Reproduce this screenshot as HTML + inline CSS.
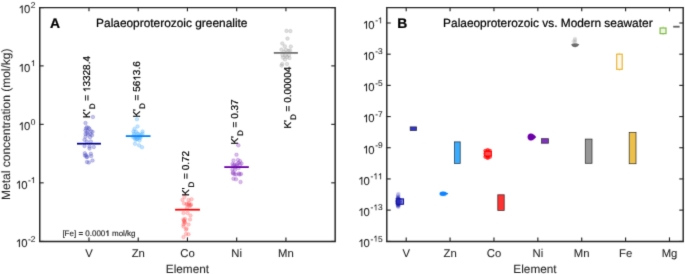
<!DOCTYPE html>
<html><head><meta charset="utf-8"><style>
html,body{margin:0;padding:0;background:#fff;}
svg{display:block;font-family:"Liberation Sans",sans-serif;text-rendering:geometricPrecision;}
text{stroke:currentColor;stroke-width:0.22px;}
.ax text,text.axt{stroke-width:0.08px;}
.fe text{stroke-width:0.1px;}
#wrap{width:685px;height:274px;overflow:hidden;}
</style></head><body>
<div id="wrap"><svg width="685" height="274" viewBox="0 0 685 274">
<defs><filter id="bl" x="0" y="0" width="685" height="274" filterUnits="userSpaceOnUse"><feConvolveMatrix order="3" kernelMatrix="0.01134 0.08382 0.01134 0.08382 0.61935 0.08382 0.01134 0.08382 0.01134" edgeMode="duplicate"/></filter></defs>
<rect width="685" height="274" fill="#fff"/>
<g filter="url(#bl)">
<circle cx="92.9" cy="117.0" r="1.8" fill="#5050c4" fill-opacity="0.34" stroke="#5050c4" stroke-opacity="0.44" stroke-width="0.6"/>
<circle cx="85.5" cy="123.0" r="1.8" fill="#5050c4" fill-opacity="0.34" stroke="#5050c4" stroke-opacity="0.44" stroke-width="0.6"/>
<circle cx="86.8" cy="127.2" r="1.8" fill="#5050c4" fill-opacity="0.34" stroke="#5050c4" stroke-opacity="0.44" stroke-width="0.6"/>
<circle cx="88.5" cy="127.8" r="1.8" fill="#5050c4" fill-opacity="0.34" stroke="#5050c4" stroke-opacity="0.44" stroke-width="0.6"/>
<circle cx="85.5" cy="130.5" r="1.8" fill="#5050c4" fill-opacity="0.34" stroke="#5050c4" stroke-opacity="0.44" stroke-width="0.6"/>
<circle cx="87.5" cy="131" r="1.8" fill="#5050c4" fill-opacity="0.34" stroke="#5050c4" stroke-opacity="0.44" stroke-width="0.6"/>
<circle cx="91" cy="131.3" r="1.8" fill="#5050c4" fill-opacity="0.34" stroke="#5050c4" stroke-opacity="0.44" stroke-width="0.6"/>
<circle cx="92.5" cy="131.8" r="1.8" fill="#5050c4" fill-opacity="0.34" stroke="#5050c4" stroke-opacity="0.44" stroke-width="0.6"/>
<circle cx="85.5" cy="134" r="1.8" fill="#5050c4" fill-opacity="0.34" stroke="#5050c4" stroke-opacity="0.44" stroke-width="0.6"/>
<circle cx="88" cy="134.5" r="1.8" fill="#5050c4" fill-opacity="0.34" stroke="#5050c4" stroke-opacity="0.44" stroke-width="0.6"/>
<circle cx="90.5" cy="134.3" r="1.8" fill="#5050c4" fill-opacity="0.34" stroke="#5050c4" stroke-opacity="0.44" stroke-width="0.6"/>
<circle cx="92" cy="135.2" r="1.8" fill="#5050c4" fill-opacity="0.34" stroke="#5050c4" stroke-opacity="0.44" stroke-width="0.6"/>
<circle cx="85.5" cy="136.8" r="1.8" fill="#5050c4" fill-opacity="0.34" stroke="#5050c4" stroke-opacity="0.44" stroke-width="0.6"/>
<circle cx="90" cy="137.2" r="1.8" fill="#5050c4" fill-opacity="0.34" stroke="#5050c4" stroke-opacity="0.44" stroke-width="0.6"/>
<circle cx="84.5" cy="139.8" r="1.8" fill="#5050c4" fill-opacity="0.34" stroke="#5050c4" stroke-opacity="0.44" stroke-width="0.6"/>
<circle cx="86.8" cy="141.5" r="1.8" fill="#5050c4" fill-opacity="0.34" stroke="#5050c4" stroke-opacity="0.44" stroke-width="0.6"/>
<circle cx="90.8" cy="141.5" r="1.8" fill="#5050c4" fill-opacity="0.34" stroke="#5050c4" stroke-opacity="0.44" stroke-width="0.6"/>
<circle cx="84.5" cy="146" r="1.8" fill="#5050c4" fill-opacity="0.34" stroke="#5050c4" stroke-opacity="0.44" stroke-width="0.6"/>
<circle cx="89.5" cy="146.5" r="1.8" fill="#5050c4" fill-opacity="0.34" stroke="#5050c4" stroke-opacity="0.44" stroke-width="0.6"/>
<circle cx="89.5" cy="148.5" r="1.8" fill="#5050c4" fill-opacity="0.34" stroke="#5050c4" stroke-opacity="0.44" stroke-width="0.6"/>
<circle cx="93.8" cy="147" r="1.8" fill="#5050c4" fill-opacity="0.34" stroke="#5050c4" stroke-opacity="0.44" stroke-width="0.6"/>
<circle cx="84.8" cy="153.3" r="1.8" fill="#5050c4" fill-opacity="0.34" stroke="#5050c4" stroke-opacity="0.44" stroke-width="0.6"/>
<circle cx="86" cy="155.3" r="1.8" fill="#5050c4" fill-opacity="0.34" stroke="#5050c4" stroke-opacity="0.44" stroke-width="0.6"/>
<circle cx="87.3" cy="156.8" r="1.8" fill="#5050c4" fill-opacity="0.34" stroke="#5050c4" stroke-opacity="0.44" stroke-width="0.6"/>
<circle cx="90.8" cy="153.8" r="1.8" fill="#5050c4" fill-opacity="0.34" stroke="#5050c4" stroke-opacity="0.44" stroke-width="0.6"/>
<circle cx="91.2" cy="156" r="1.8" fill="#5050c4" fill-opacity="0.34" stroke="#5050c4" stroke-opacity="0.44" stroke-width="0.6"/>
<circle cx="92.5" cy="160.5" r="1.8" fill="#5050c4" fill-opacity="0.34" stroke="#5050c4" stroke-opacity="0.44" stroke-width="0.6"/>
<circle cx="87" cy="162" r="1.8" fill="#5050c4" fill-opacity="0.34" stroke="#5050c4" stroke-opacity="0.44" stroke-width="0.6"/>
<circle cx="88.8" cy="162.5" r="1.8" fill="#5050c4" fill-opacity="0.34" stroke="#5050c4" stroke-opacity="0.44" stroke-width="0.6"/>
<circle cx="86" cy="128.5" r="1.8" fill="#5050c4" fill-opacity="0.34" stroke="#5050c4" stroke-opacity="0.44" stroke-width="0.6"/>
<circle cx="89.5" cy="129" r="1.8" fill="#5050c4" fill-opacity="0.34" stroke="#5050c4" stroke-opacity="0.44" stroke-width="0.6"/>
<circle cx="87" cy="133" r="1.8" fill="#5050c4" fill-opacity="0.34" stroke="#5050c4" stroke-opacity="0.44" stroke-width="0.6"/>
<circle cx="85" cy="155.5" r="1.8" fill="#5050c4" fill-opacity="0.34" stroke="#5050c4" stroke-opacity="0.44" stroke-width="0.6"/>
<circle cx="86.5" cy="157" r="1.8" fill="#5050c4" fill-opacity="0.34" stroke="#5050c4" stroke-opacity="0.44" stroke-width="0.6"/>
<circle cx="136.9" cy="119.3" r="1.8" fill="#4aacff" fill-opacity="0.33" stroke="#4aacff" stroke-opacity="0.43" stroke-width="0.6"/>
<circle cx="137.5" cy="126.5" r="1.8" fill="#4aacff" fill-opacity="0.33" stroke="#4aacff" stroke-opacity="0.43" stroke-width="0.6"/>
<circle cx="134.5" cy="129" r="1.8" fill="#4aacff" fill-opacity="0.33" stroke="#4aacff" stroke-opacity="0.43" stroke-width="0.6"/>
<circle cx="133.5" cy="131.5" r="1.8" fill="#4aacff" fill-opacity="0.33" stroke="#4aacff" stroke-opacity="0.43" stroke-width="0.6"/>
<circle cx="136" cy="131.8" r="1.8" fill="#4aacff" fill-opacity="0.33" stroke="#4aacff" stroke-opacity="0.43" stroke-width="0.6"/>
<circle cx="134" cy="133.8" r="1.8" fill="#4aacff" fill-opacity="0.33" stroke="#4aacff" stroke-opacity="0.43" stroke-width="0.6"/>
<circle cx="137.5" cy="133.6" r="1.8" fill="#4aacff" fill-opacity="0.33" stroke="#4aacff" stroke-opacity="0.43" stroke-width="0.6"/>
<circle cx="142.5" cy="131.5" r="1.8" fill="#4aacff" fill-opacity="0.33" stroke="#4aacff" stroke-opacity="0.43" stroke-width="0.6"/>
<circle cx="142.5" cy="133.8" r="1.8" fill="#4aacff" fill-opacity="0.33" stroke="#4aacff" stroke-opacity="0.43" stroke-width="0.6"/>
<circle cx="139" cy="134.3" r="1.8" fill="#4aacff" fill-opacity="0.33" stroke="#4aacff" stroke-opacity="0.43" stroke-width="0.6"/>
<circle cx="134.5" cy="138" r="1.8" fill="#4aacff" fill-opacity="0.33" stroke="#4aacff" stroke-opacity="0.43" stroke-width="0.6"/>
<circle cx="137" cy="138.5" r="1.8" fill="#4aacff" fill-opacity="0.33" stroke="#4aacff" stroke-opacity="0.43" stroke-width="0.6"/>
<circle cx="139.2" cy="138" r="1.8" fill="#4aacff" fill-opacity="0.33" stroke="#4aacff" stroke-opacity="0.43" stroke-width="0.6"/>
<circle cx="139.5" cy="140.5" r="1.8" fill="#4aacff" fill-opacity="0.33" stroke="#4aacff" stroke-opacity="0.43" stroke-width="0.6"/>
<circle cx="135" cy="143.8" r="1.8" fill="#4aacff" fill-opacity="0.33" stroke="#4aacff" stroke-opacity="0.43" stroke-width="0.6"/>
<circle cx="139" cy="145.3" r="1.8" fill="#4aacff" fill-opacity="0.33" stroke="#4aacff" stroke-opacity="0.43" stroke-width="0.6"/>
<circle cx="142" cy="147.2" r="1.8" fill="#4aacff" fill-opacity="0.33" stroke="#4aacff" stroke-opacity="0.43" stroke-width="0.6"/>
<circle cx="136" cy="136.5" r="1.8" fill="#4aacff" fill-opacity="0.33" stroke="#4aacff" stroke-opacity="0.43" stroke-width="0.6"/>
<circle cx="140.5" cy="136.5" r="1.8" fill="#4aacff" fill-opacity="0.33" stroke="#4aacff" stroke-opacity="0.43" stroke-width="0.6"/>
<circle cx="134" cy="135.5" r="1.8" fill="#4aacff" fill-opacity="0.33" stroke="#4aacff" stroke-opacity="0.43" stroke-width="0.6"/>
<circle cx="136" cy="137" r="1.8" fill="#4aacff" fill-opacity="0.33" stroke="#4aacff" stroke-opacity="0.43" stroke-width="0.6"/>
<circle cx="138.5" cy="136.5" r="1.8" fill="#4aacff" fill-opacity="0.33" stroke="#4aacff" stroke-opacity="0.43" stroke-width="0.6"/>
<circle cx="140.5" cy="137.8" r="1.8" fill="#4aacff" fill-opacity="0.33" stroke="#4aacff" stroke-opacity="0.43" stroke-width="0.6"/>
<circle cx="137" cy="139.2" r="1.8" fill="#4aacff" fill-opacity="0.33" stroke="#4aacff" stroke-opacity="0.43" stroke-width="0.6"/>
<circle cx="135.5" cy="139.8" r="1.8" fill="#4aacff" fill-opacity="0.33" stroke="#4aacff" stroke-opacity="0.43" stroke-width="0.6"/>
<circle cx="141" cy="135" r="1.8" fill="#4aacff" fill-opacity="0.33" stroke="#4aacff" stroke-opacity="0.43" stroke-width="0.6"/>
<circle cx="133" cy="137" r="1.8" fill="#4aacff" fill-opacity="0.33" stroke="#4aacff" stroke-opacity="0.43" stroke-width="0.6"/>
<circle cx="184.5" cy="197" r="1.8" fill="#ff5050" fill-opacity="0.3" stroke="#ff5050" stroke-opacity="0.39" stroke-width="0.6"/>
<circle cx="182.5" cy="200" r="1.8" fill="#ff5050" fill-opacity="0.3" stroke="#ff5050" stroke-opacity="0.39" stroke-width="0.6"/>
<circle cx="188.5" cy="200" r="1.8" fill="#ff5050" fill-opacity="0.3" stroke="#ff5050" stroke-opacity="0.39" stroke-width="0.6"/>
<circle cx="191.5" cy="199.3" r="1.8" fill="#ff5050" fill-opacity="0.3" stroke="#ff5050" stroke-opacity="0.39" stroke-width="0.6"/>
<circle cx="184" cy="203.5" r="1.8" fill="#ff5050" fill-opacity="0.3" stroke="#ff5050" stroke-opacity="0.39" stroke-width="0.6"/>
<circle cx="186.5" cy="204" r="1.8" fill="#ff5050" fill-opacity="0.3" stroke="#ff5050" stroke-opacity="0.39" stroke-width="0.6"/>
<circle cx="189" cy="204.5" r="1.8" fill="#ff5050" fill-opacity="0.3" stroke="#ff5050" stroke-opacity="0.39" stroke-width="0.6"/>
<circle cx="191" cy="204.6" r="1.8" fill="#ff5050" fill-opacity="0.3" stroke="#ff5050" stroke-opacity="0.39" stroke-width="0.6"/>
<circle cx="187" cy="207.8" r="1.8" fill="#ff5050" fill-opacity="0.3" stroke="#ff5050" stroke-opacity="0.39" stroke-width="0.6"/>
<circle cx="183.5" cy="213" r="1.8" fill="#ff5050" fill-opacity="0.3" stroke="#ff5050" stroke-opacity="0.39" stroke-width="0.6"/>
<circle cx="187.5" cy="213" r="1.8" fill="#ff5050" fill-opacity="0.3" stroke="#ff5050" stroke-opacity="0.39" stroke-width="0.6"/>
<circle cx="190.5" cy="215.5" r="1.8" fill="#ff5050" fill-opacity="0.3" stroke="#ff5050" stroke-opacity="0.39" stroke-width="0.6"/>
<circle cx="190" cy="219.5" r="1.8" fill="#ff5050" fill-opacity="0.3" stroke="#ff5050" stroke-opacity="0.39" stroke-width="0.6"/>
<circle cx="183.5" cy="219.5" r="1.8" fill="#ff5050" fill-opacity="0.3" stroke="#ff5050" stroke-opacity="0.39" stroke-width="0.6"/>
<circle cx="184.2" cy="220.8" r="1.8" fill="#ff5050" fill-opacity="0.3" stroke="#ff5050" stroke-opacity="0.39" stroke-width="0.6"/>
<circle cx="185" cy="222.2" r="1.8" fill="#ff5050" fill-opacity="0.3" stroke="#ff5050" stroke-opacity="0.39" stroke-width="0.6"/>
<circle cx="183.5" cy="224.5" r="1.8" fill="#ff5050" fill-opacity="0.3" stroke="#ff5050" stroke-opacity="0.39" stroke-width="0.6"/>
<circle cx="188.5" cy="224.5" r="1.8" fill="#ff5050" fill-opacity="0.3" stroke="#ff5050" stroke-opacity="0.39" stroke-width="0.6"/>
<circle cx="183.5" cy="226.5" r="1.8" fill="#ff5050" fill-opacity="0.3" stroke="#ff5050" stroke-opacity="0.39" stroke-width="0.6"/>
<circle cx="186.5" cy="228.5" r="1.8" fill="#ff5050" fill-opacity="0.3" stroke="#ff5050" stroke-opacity="0.39" stroke-width="0.6"/>
<circle cx="186" cy="229.7" r="1.8" fill="#ff5050" fill-opacity="0.3" stroke="#ff5050" stroke-opacity="0.39" stroke-width="0.6"/>
<circle cx="186" cy="234" r="1.8" fill="#ff5050" fill-opacity="0.3" stroke="#ff5050" stroke-opacity="0.39" stroke-width="0.6"/>
<circle cx="188.5" cy="234.2" r="1.8" fill="#ff5050" fill-opacity="0.3" stroke="#ff5050" stroke-opacity="0.39" stroke-width="0.6"/>
<circle cx="183.5" cy="237" r="1.8" fill="#ff5050" fill-opacity="0.3" stroke="#ff5050" stroke-opacity="0.39" stroke-width="0.6"/>
<circle cx="189.5" cy="205.8" r="1.8" fill="#ff5050" fill-opacity="0.3" stroke="#ff5050" stroke-opacity="0.39" stroke-width="0.6"/>
<circle cx="187.5" cy="204.5" r="1.8" fill="#ff5050" fill-opacity="0.3" stroke="#ff5050" stroke-opacity="0.39" stroke-width="0.6"/>
<circle cx="189" cy="203" r="1.8" fill="#ff5050" fill-opacity="0.3" stroke="#ff5050" stroke-opacity="0.39" stroke-width="0.6"/>
<circle cx="190.5" cy="205.5" r="1.8" fill="#ff5050" fill-opacity="0.3" stroke="#ff5050" stroke-opacity="0.39" stroke-width="0.6"/>
<circle cx="184" cy="221" r="1.8" fill="#ff5050" fill-opacity="0.3" stroke="#ff5050" stroke-opacity="0.39" stroke-width="0.6"/>
<circle cx="185" cy="219" r="1.8" fill="#ff5050" fill-opacity="0.3" stroke="#ff5050" stroke-opacity="0.39" stroke-width="0.6"/>
<circle cx="184.5" cy="223" r="1.8" fill="#ff5050" fill-opacity="0.3" stroke="#ff5050" stroke-opacity="0.39" stroke-width="0.6"/>
<circle cx="238.3" cy="145.3" r="1.8" fill="#8a36c0" fill-opacity="0.32" stroke="#8a36c0" stroke-opacity="0.42" stroke-width="0.6"/>
<circle cx="236.5" cy="154.8" r="1.8" fill="#8a36c0" fill-opacity="0.32" stroke="#8a36c0" stroke-opacity="0.42" stroke-width="0.6"/>
<circle cx="233.5" cy="160.5" r="1.8" fill="#8a36c0" fill-opacity="0.32" stroke="#8a36c0" stroke-opacity="0.42" stroke-width="0.6"/>
<circle cx="238" cy="160" r="1.8" fill="#8a36c0" fill-opacity="0.32" stroke="#8a36c0" stroke-opacity="0.42" stroke-width="0.6"/>
<circle cx="240" cy="161.2" r="1.8" fill="#8a36c0" fill-opacity="0.32" stroke="#8a36c0" stroke-opacity="0.42" stroke-width="0.6"/>
<circle cx="232.5" cy="164" r="1.8" fill="#8a36c0" fill-opacity="0.32" stroke="#8a36c0" stroke-opacity="0.42" stroke-width="0.6"/>
<circle cx="234.5" cy="164.5" r="1.8" fill="#8a36c0" fill-opacity="0.32" stroke="#8a36c0" stroke-opacity="0.42" stroke-width="0.6"/>
<circle cx="237" cy="164.2" r="1.8" fill="#8a36c0" fill-opacity="0.32" stroke="#8a36c0" stroke-opacity="0.42" stroke-width="0.6"/>
<circle cx="240" cy="164.8" r="1.8" fill="#8a36c0" fill-opacity="0.32" stroke="#8a36c0" stroke-opacity="0.42" stroke-width="0.6"/>
<circle cx="241.5" cy="163.5" r="1.8" fill="#8a36c0" fill-opacity="0.32" stroke="#8a36c0" stroke-opacity="0.42" stroke-width="0.6"/>
<circle cx="232.5" cy="169.5" r="1.8" fill="#8a36c0" fill-opacity="0.32" stroke="#8a36c0" stroke-opacity="0.42" stroke-width="0.6"/>
<circle cx="235" cy="169.8" r="1.8" fill="#8a36c0" fill-opacity="0.32" stroke="#8a36c0" stroke-opacity="0.42" stroke-width="0.6"/>
<circle cx="233" cy="173.5" r="1.8" fill="#8a36c0" fill-opacity="0.32" stroke="#8a36c0" stroke-opacity="0.42" stroke-width="0.6"/>
<circle cx="236" cy="174.5" r="1.8" fill="#8a36c0" fill-opacity="0.32" stroke="#8a36c0" stroke-opacity="0.42" stroke-width="0.6"/>
<circle cx="239" cy="173.5" r="1.8" fill="#8a36c0" fill-opacity="0.32" stroke="#8a36c0" stroke-opacity="0.42" stroke-width="0.6"/>
<circle cx="241" cy="174" r="1.8" fill="#8a36c0" fill-opacity="0.32" stroke="#8a36c0" stroke-opacity="0.42" stroke-width="0.6"/>
<circle cx="233.5" cy="178.7" r="1.8" fill="#8a36c0" fill-opacity="0.32" stroke="#8a36c0" stroke-opacity="0.42" stroke-width="0.6"/>
<circle cx="236" cy="179.3" r="1.8" fill="#8a36c0" fill-opacity="0.32" stroke="#8a36c0" stroke-opacity="0.42" stroke-width="0.6"/>
<circle cx="240.5" cy="182" r="1.8" fill="#8a36c0" fill-opacity="0.32" stroke="#8a36c0" stroke-opacity="0.42" stroke-width="0.6"/>
<circle cx="235.5" cy="167" r="1.8" fill="#8a36c0" fill-opacity="0.32" stroke="#8a36c0" stroke-opacity="0.42" stroke-width="0.6"/>
<circle cx="238.5" cy="168" r="1.8" fill="#8a36c0" fill-opacity="0.32" stroke="#8a36c0" stroke-opacity="0.42" stroke-width="0.6"/>
<circle cx="233" cy="172.5" r="1.8" fill="#8a36c0" fill-opacity="0.32" stroke="#8a36c0" stroke-opacity="0.42" stroke-width="0.6"/>
<circle cx="234.5" cy="174" r="1.8" fill="#8a36c0" fill-opacity="0.32" stroke="#8a36c0" stroke-opacity="0.42" stroke-width="0.6"/>
<circle cx="239.5" cy="174.5" r="1.8" fill="#8a36c0" fill-opacity="0.32" stroke="#8a36c0" stroke-opacity="0.42" stroke-width="0.6"/>
<circle cx="236.5" cy="166" r="1.8" fill="#8a36c0" fill-opacity="0.32" stroke="#8a36c0" stroke-opacity="0.42" stroke-width="0.6"/>
<circle cx="233.5" cy="165.5" r="1.8" fill="#8a36c0" fill-opacity="0.32" stroke="#8a36c0" stroke-opacity="0.42" stroke-width="0.6"/>
<circle cx="238.5" cy="163" r="1.8" fill="#8a36c0" fill-opacity="0.32" stroke="#8a36c0" stroke-opacity="0.42" stroke-width="0.6"/>
<circle cx="286.5" cy="30.9" r="1.8" fill="#8c8c8c" fill-opacity="0.28" stroke="#8c8c8c" stroke-opacity="0.36" stroke-width="0.6"/>
<circle cx="290.4" cy="31.1" r="1.8" fill="#8c8c8c" fill-opacity="0.28" stroke="#8c8c8c" stroke-opacity="0.36" stroke-width="0.6"/>
<circle cx="287.5" cy="38.6" r="1.8" fill="#8c8c8c" fill-opacity="0.28" stroke="#8c8c8c" stroke-opacity="0.36" stroke-width="0.6"/>
<circle cx="282.3" cy="43.5" r="1.8" fill="#8c8c8c" fill-opacity="0.28" stroke="#8c8c8c" stroke-opacity="0.36" stroke-width="0.6"/>
<circle cx="284.8" cy="46.3" r="1.8" fill="#8c8c8c" fill-opacity="0.28" stroke="#8c8c8c" stroke-opacity="0.36" stroke-width="0.6"/>
<circle cx="290.8" cy="46.6" r="1.8" fill="#8c8c8c" fill-opacity="0.28" stroke="#8c8c8c" stroke-opacity="0.36" stroke-width="0.6"/>
<circle cx="281.5" cy="49.6" r="1.8" fill="#8c8c8c" fill-opacity="0.28" stroke="#8c8c8c" stroke-opacity="0.36" stroke-width="0.6"/>
<circle cx="286" cy="49.8" r="1.8" fill="#8c8c8c" fill-opacity="0.28" stroke="#8c8c8c" stroke-opacity="0.36" stroke-width="0.6"/>
<circle cx="288.5" cy="51" r="1.8" fill="#8c8c8c" fill-opacity="0.28" stroke="#8c8c8c" stroke-opacity="0.36" stroke-width="0.6"/>
<circle cx="290" cy="50.5" r="1.8" fill="#8c8c8c" fill-opacity="0.28" stroke="#8c8c8c" stroke-opacity="0.36" stroke-width="0.6"/>
<circle cx="284" cy="52" r="1.8" fill="#8c8c8c" fill-opacity="0.28" stroke="#8c8c8c" stroke-opacity="0.36" stroke-width="0.6"/>
<circle cx="282.5" cy="55" r="1.8" fill="#8c8c8c" fill-opacity="0.28" stroke="#8c8c8c" stroke-opacity="0.36" stroke-width="0.6"/>
<circle cx="285.5" cy="55.5" r="1.8" fill="#8c8c8c" fill-opacity="0.28" stroke="#8c8c8c" stroke-opacity="0.36" stroke-width="0.6"/>
<circle cx="289" cy="55" r="1.8" fill="#8c8c8c" fill-opacity="0.28" stroke="#8c8c8c" stroke-opacity="0.36" stroke-width="0.6"/>
<circle cx="283" cy="57.5" r="1.8" fill="#8c8c8c" fill-opacity="0.28" stroke="#8c8c8c" stroke-opacity="0.36" stroke-width="0.6"/>
<circle cx="287" cy="57" r="1.8" fill="#8c8c8c" fill-opacity="0.28" stroke="#8c8c8c" stroke-opacity="0.36" stroke-width="0.6"/>
<circle cx="289.5" cy="58" r="1.8" fill="#8c8c8c" fill-opacity="0.28" stroke="#8c8c8c" stroke-opacity="0.36" stroke-width="0.6"/>
<circle cx="285" cy="59.5" r="1.8" fill="#8c8c8c" fill-opacity="0.28" stroke="#8c8c8c" stroke-opacity="0.36" stroke-width="0.6"/>
<circle cx="282.2" cy="64" r="1.8" fill="#8c8c8c" fill-opacity="0.28" stroke="#8c8c8c" stroke-opacity="0.36" stroke-width="0.6"/>
<circle cx="287" cy="64" r="1.8" fill="#8c8c8c" fill-opacity="0.28" stroke="#8c8c8c" stroke-opacity="0.36" stroke-width="0.6"/>
<circle cx="281.6" cy="65.6" r="1.8" fill="#8c8c8c" fill-opacity="0.28" stroke="#8c8c8c" stroke-opacity="0.36" stroke-width="0.6"/>
<line x1="77.0" y1="143.7" x2="100.9" y2="143.7" stroke="#00008c" stroke-width="1.8"/>
<line x1="125.8" y1="136.1" x2="150.5" y2="136.1" stroke="#0082ff" stroke-width="1.8"/>
<line x1="175.1" y1="209.7" x2="199.9" y2="209.7" stroke="#ff0000" stroke-width="1.8"/>
<line x1="224.3" y1="167.1" x2="248.8" y2="167.1" stroke="#6a00a8" stroke-width="1.8"/>
<line x1="273.8" y1="52.9" x2="297.9" y2="52.9" stroke="#737373" stroke-width="1.8"/>
<path d="M39.75 7.6000000000000005 H335.15 V241.45000000000002 H39.75 Z" fill="none" stroke="#262626" stroke-width="1.45" stroke-linejoin="miter"/>
<line x1="39.75" y1="7.60" x2="43.65" y2="7.60" stroke="#262626" stroke-width="1.15"/>
<line x1="335.15" y1="7.60" x2="331.25" y2="7.60" stroke="#262626" stroke-width="1.15"/>
<g fill="#262626" color="#262626" class="ax"><path transform="translate(18.51,13.20) scale(0.00552,-0.00552)" d="M583 0 L583 1125 L222 905 L222 1080 L600 1409 L763 1409 L763 0 Z" stroke="currentColor" stroke-width="14.5"/><text x="23.94" y="13.20" font-size="11.3" xml:space="preserve">0</text><text x="30.83" y="7.60" font-size="8.4" xml:space="preserve">2</text></g>
<line x1="39.75" y1="65.88" x2="43.65" y2="65.88" stroke="#262626" stroke-width="1.15"/>
<line x1="335.15" y1="65.88" x2="331.25" y2="65.88" stroke="#262626" stroke-width="1.15"/>
<g fill="#262626" color="#262626" class="ax"><path transform="translate(18.51,71.67) scale(0.00552,-0.00552)" d="M583 0 L583 1125 L222 905 L222 1080 L600 1409 L763 1409 L763 0 Z" stroke="currentColor" stroke-width="14.5"/><text x="23.94" y="71.67" font-size="11.3" xml:space="preserve">0</text><path transform="translate(30.83,66.08) scale(0.00410,-0.00410)" d="M583 0 L583 1125 L222 905 L222 1080 L600 1409 L763 1409 L763 0 Z" stroke="currentColor" stroke-width="19.5"/></g>
<line x1="39.75" y1="124.35" x2="43.65" y2="124.35" stroke="#262626" stroke-width="1.15"/>
<line x1="335.15" y1="124.35" x2="331.25" y2="124.35" stroke="#262626" stroke-width="1.15"/>
<g fill="#262626" color="#262626" class="ax"><path transform="translate(18.51,130.15) scale(0.00552,-0.00552)" d="M583 0 L583 1125 L222 905 L222 1080 L600 1409 L763 1409 L763 0 Z" stroke="currentColor" stroke-width="14.5"/><text x="23.94" y="130.15" font-size="11.3" xml:space="preserve">0</text><text x="30.83" y="124.55" font-size="8.4" xml:space="preserve">0</text></g>
<line x1="39.75" y1="182.83" x2="43.65" y2="182.83" stroke="#262626" stroke-width="1.15"/>
<line x1="335.15" y1="182.83" x2="331.25" y2="182.83" stroke="#262626" stroke-width="1.15"/>
<g fill="#262626" color="#262626" class="ax"><path transform="translate(15.71,188.63) scale(0.00552,-0.00552)" d="M583 0 L583 1125 L222 905 L222 1080 L600 1409 L763 1409 L763 0 Z" stroke="currentColor" stroke-width="14.5"/><text x="21.15" y="188.63" font-size="11.3" xml:space="preserve">0</text><text x="28.03" y="183.03" font-size="8.4" xml:space="preserve">-</text><path transform="translate(30.83,183.03) scale(0.00410,-0.00410)" d="M583 0 L583 1125 L222 905 L222 1080 L600 1409 L763 1409 L763 0 Z" stroke="currentColor" stroke-width="19.5"/></g>
<line x1="39.75" y1="241.45" x2="43.65" y2="241.45" stroke="#262626" stroke-width="1.15"/>
<line x1="335.15" y1="241.45" x2="331.25" y2="241.45" stroke="#262626" stroke-width="1.15"/>
<g fill="#262626" color="#262626" class="ax"><path transform="translate(15.71,247.10) scale(0.00552,-0.00552)" d="M583 0 L583 1125 L222 905 L222 1080 L600 1409 L763 1409 L763 0 Z" stroke="currentColor" stroke-width="14.5"/><text x="21.15" y="247.10" font-size="11.3" xml:space="preserve">0</text><text x="28.03" y="241.50" font-size="8.4" xml:space="preserve">-2</text></g>
<line x1="88.98" y1="241.3" x2="88.98" y2="237.4" stroke="#262626" stroke-width="1.15"/>
<line x1="88.98" y1="7.4" x2="88.98" y2="11.3" stroke="#262626" stroke-width="1.15"/>
<text class="axt" x="88.98" y="257" text-anchor="middle" font-size="11.3" fill="#262626" color="#262626">V</text>
<line x1="138.22" y1="241.3" x2="138.22" y2="237.4" stroke="#262626" stroke-width="1.15"/>
<line x1="138.22" y1="7.4" x2="138.22" y2="11.3" stroke="#262626" stroke-width="1.15"/>
<text class="axt" x="138.22" y="257" text-anchor="middle" font-size="11.3" fill="#262626" color="#262626">Zn</text>
<line x1="187.45" y1="241.3" x2="187.45" y2="237.4" stroke="#262626" stroke-width="1.15"/>
<line x1="187.45" y1="7.4" x2="187.45" y2="11.3" stroke="#262626" stroke-width="1.15"/>
<text class="axt" x="187.45" y="257" text-anchor="middle" font-size="11.3" fill="#262626" color="#262626">Co</text>
<line x1="236.68" y1="241.3" x2="236.68" y2="237.4" stroke="#262626" stroke-width="1.15"/>
<line x1="236.68" y1="7.4" x2="236.68" y2="11.3" stroke="#262626" stroke-width="1.15"/>
<text class="axt" x="236.68" y="257" text-anchor="middle" font-size="11.3" fill="#262626" color="#262626">Ni</text>
<line x1="285.92" y1="241.3" x2="285.92" y2="237.4" stroke="#262626" stroke-width="1.15"/>
<line x1="285.92" y1="7.4" x2="285.92" y2="11.3" stroke="#262626" stroke-width="1.15"/>
<text class="axt" x="285.92" y="257" text-anchor="middle" font-size="11.3" fill="#262626" color="#262626">Mn</text>
<g fill="#000" color="#000" transform="translate(90.2,117.9) rotate(-90)"><text x="0.00" y="0.00" font-size="10" xml:space="preserve">K'</text><text x="8.58" y="4.40" font-size="8" xml:space="preserve">D</text><text x="14.36" y="0.00" font-size="10" xml:space="preserve"> = </text><path transform="translate(25.75,0.00) scale(0.00488,-0.00488)" d="M583 0 L583 1125 L222 905 L222 1080 L600 1409 L763 1409 L763 0 Z" stroke="currentColor" stroke-width="45.1"/><text x="31.31" y="0.00" font-size="10" xml:space="preserve">3328.4</text></g>
<g fill="#000" color="#000" transform="translate(140.3,117.6) rotate(-90)"><text x="0.00" y="0.00" font-size="10" xml:space="preserve">K'</text><text x="8.58" y="4.40" font-size="8" xml:space="preserve">D</text><text x="14.36" y="0.00" font-size="10" xml:space="preserve"> = 56</text><path transform="translate(36.88,0.00) scale(0.00488,-0.00488)" d="M583 0 L583 1125 L222 905 L222 1080 L600 1409 L763 1409 L763 0 Z" stroke="currentColor" stroke-width="45.1"/><text x="42.44" y="0.00" font-size="10" xml:space="preserve">3.6</text></g>
<g fill="#000" color="#000" transform="translate(189.3,196.05) rotate(-90)"><text x="0.00" y="0.00" font-size="10" xml:space="preserve">K'</text><text x="8.58" y="4.40" font-size="8" xml:space="preserve">D</text><text x="14.36" y="0.00" font-size="10" xml:space="preserve"> = 0.72</text></g>
<g fill="#000" color="#000" transform="translate(238.1,144.6) rotate(-90)"><text x="0.00" y="0.00" font-size="10" xml:space="preserve">K'</text><text x="8.58" y="4.40" font-size="8" xml:space="preserve">D</text><text x="14.36" y="0.00" font-size="10" xml:space="preserve"> = 0.37</text></g>
<g fill="#000" color="#000" transform="translate(291.1,128.6) rotate(-90)"><text x="0.00" y="0.00" font-size="10" xml:space="preserve">K'</text><text x="8.58" y="4.40" font-size="8" xml:space="preserve">D</text><text x="14.36" y="0.00" font-size="10" xml:space="preserve"> = 0.00004</text></g>
<text x="50.1" y="27.7" font-size="13.9" font-weight="bold" fill="#000" color="#000">A</text>
<text x="96.1" y="26.8" font-size="11.9" fill="#000" color="#000">Palaeoproterozoic greenalite</text>
<g fill="#111" color="#111" class="fe"><text x="62.40" y="236.00" font-size="8" xml:space="preserve">[Fe] = 0.000</text><path transform="translate(105.32,236.00) scale(0.00391,-0.00391)" d="M583 0 L583 1125 L222 905 L222 1080 L600 1409 L763 1409 L763 0 Z" stroke="currentColor" stroke-width="56.3"/><text x="109.77" y="236.00" font-size="8" xml:space="preserve"> mol/kg</text></g>
<text x="187.45" y="272.7" text-anchor="middle" font-size="11.8" class="axt" fill="#262626" color="#262626">Element</text>
<text transform="translate(9.9,124.2) rotate(-90)" text-anchor="middle" font-size="12" class="axt" fill="#262626" color="#262626">Metal concentration (mol/kg)</text>
<rect x="410.2" y="126.9" width="6.40" height="3.60" fill="#3030d0" fill-opacity="1" stroke="#2a2a2a" stroke-width="0.75"/>
<rect x="454.4" y="141.9" width="5.80" height="21.50" fill="#38acff" fill-opacity="1" stroke="#2a2a2a" stroke-width="0.75"/>
<rect x="497.8" y="194.8" width="6.40" height="15.60" fill="#ff3030" fill-opacity="1" stroke="#2a2a2a" stroke-width="0.75"/>
<rect x="541.6" y="138.7" width="6.80" height="4.50" fill="#8030be" fill-opacity="1" stroke="#2a2a2a" stroke-width="0.75"/>
<rect x="585.3" y="139.1" width="6.70" height="24.20" fill="#969696" fill-opacity="1" stroke="#2a2a2a" stroke-width="0.75"/>
<rect x="629.2" y="132.4" width="6.80" height="31.30" fill="#ecc048" fill-opacity="1" stroke="#2a2a2a" stroke-width="0.75"/>
<line x1="673.2" y1="26.7" x2="679.6" y2="26.7" stroke="#646464" stroke-width="1.8"/>
<circle cx="398.4" cy="193.9" r="2.2" fill="#1414aa" fill-opacity="0.18"/>
<circle cx="398.1" cy="195.4" r="2.2" fill="#1414aa" fill-opacity="0.22"/>
<circle cx="398.3" cy="196.9" r="2.2" fill="#1414aa" fill-opacity="0.3"/>
<circle cx="397.9" cy="198.3" r="2.2" fill="#1414aa" fill-opacity="0.55"/>
<circle cx="398.6" cy="199.5" r="2.2" fill="#1414aa" fill-opacity="0.65"/>
<circle cx="397.7" cy="200.8" r="2.2" fill="#1414aa" fill-opacity="0.65"/>
<circle cx="398.6" cy="202" r="2.2" fill="#1414aa" fill-opacity="0.65"/>
<circle cx="397.8" cy="203.2" r="2.2" fill="#1414aa" fill-opacity="0.65"/>
<circle cx="398.4" cy="204.4" r="2.2" fill="#1414aa" fill-opacity="0.6"/>
<circle cx="398.0" cy="205.6" r="2.2" fill="#1414aa" fill-opacity="0.45"/>
<circle cx="398.3" cy="206.6" r="2.2" fill="#1414aa" fill-opacity="0.3"/>
<circle cx="400.2" cy="200.5" r="2.2" fill="#1414aa" fill-opacity="0.45"/>
<circle cx="400.3" cy="203" r="2.2" fill="#1414aa" fill-opacity="0.45"/>
<circle cx="397.6" cy="201.5" r="2.2" fill="#1414aa" fill-opacity="0.5"/>
<rect x="396.4" y="198.9" width="7.10" height="5.30" fill="#3c3cc8" fill-opacity="0.55" stroke="#14149a" stroke-width="1.1"/>
<ellipse cx="443.1" cy="193.8" rx="3.5" ry="2.2" fill="#0a84ff"/>
<ellipse cx="446.6" cy="193.6" rx="1.6" ry="0.9" fill="#0a84ff"/>
<ellipse cx="443.1" cy="193.8" rx="4.3" ry="2.9" fill="#0a84ff" fill-opacity="0.12"/>
<circle cx="487.7" cy="150.2" r="2.1" fill="#ff0000" fill-opacity="0.7"/>
<circle cx="487.7" cy="151.8" r="2.1" fill="#ff0000" fill-opacity="0.7"/>
<circle cx="487.7" cy="153.5" r="2.1" fill="#ff0000" fill-opacity="0.7"/>
<circle cx="487.7" cy="155.2" r="2.1" fill="#ff0000" fill-opacity="0.7"/>
<circle cx="487.7" cy="156.8" r="2.1" fill="#ff0000" fill-opacity="0.7"/>
<circle cx="487.7" cy="158" r="2.1" fill="#ff0000" fill-opacity="0.7"/>
<circle cx="485.4" cy="150.8" r="2.1" fill="#ff0000" fill-opacity="0.7"/>
<circle cx="485.4" cy="153.8" r="2.1" fill="#ff0000" fill-opacity="0.7"/>
<circle cx="485.4" cy="156.8" r="2.1" fill="#ff0000" fill-opacity="0.7"/>
<circle cx="489.9" cy="150.8" r="2.1" fill="#ff0000" fill-opacity="0.7"/>
<circle cx="489.9" cy="153.8" r="2.1" fill="#ff0000" fill-opacity="0.7"/>
<circle cx="489.9" cy="156.8" r="2.1" fill="#ff0000" fill-opacity="0.7"/>
<rect x="484.8" y="151.6" width="6.50" height="4.30" fill="#ff5a5a" fill-opacity="0.85" stroke="#ff0000" stroke-width="1.1"/>
<path d="M530.8 133.6 C533.0 133.6 534.2 135.0 536.2 137.1 C534.2 139.3 533.0 140.6 530.8 140.6 C528.8 140.6 527.6 139.0 527.6 137.1 C527.6 135.2 528.8 133.6 530.8 133.6 Z" fill="#6e00aa"/>
<ellipse cx="531.2" cy="137.1" rx="4.6" ry="4.1" fill="#6e00aa" fill-opacity="0.1"/>
<path d="M571.2 44.2 Q575.3 42.0 579.4 44.6 Q577.5 47.2 575.3 47.2 Q572.0 47.2 571.2 44.2 Z" fill="#6a6a6a"/>
<circle cx="575.0" cy="38.8" r="2.1" fill="#9a9a9a" fill-opacity="0.28"/>
<circle cx="575.0" cy="40.4" r="2.1" fill="#9a9a9a" fill-opacity="0.28"/>
<circle cx="575.0" cy="42.0" r="2.1" fill="#9a9a9a" fill-opacity="0.28"/>
<circle cx="573.6" cy="41.5" r="2.1" fill="#9a9a9a" fill-opacity="0.25"/>
<rect x="616.7" y="54.2" width="5.50" height="15.10" fill="#fdf8ec" fill-opacity="1" stroke="#e9b428" stroke-width="1.2"/>
<line x1="619.4" y1="52.6" x2="619.4" y2="54.2" stroke="#e8b930" stroke-width="0.8" stroke-opacity="0.6"/>
<line x1="619.4" y1="69.3" x2="619.4" y2="70.9" stroke="#e8b930" stroke-width="0.8" stroke-opacity="0.6"/>
<rect x="660.1" y="28.0" width="5.90" height="5.60" fill="#edf4e4" fill-opacity="1" stroke="#7dbb3e" stroke-width="1.2"/>
<line x1="663" y1="26.4" x2="663" y2="28" stroke="#82be46" stroke-width="0.8" stroke-opacity="0.6"/>
<line x1="663" y1="33.6" x2="663" y2="35.2" stroke="#82be46" stroke-width="0.8" stroke-opacity="0.6"/>
<path d="M386.8 7.6000000000000005 H683.2 V241.45000000000002 H386.8 Z" fill="none" stroke="#262626" stroke-width="1.45" stroke-linejoin="miter"/>
<line x1="386.8" y1="22.99" x2="390.7" y2="22.99" stroke="#262626" stroke-width="1.15"/>
<line x1="683.2" y1="22.99" x2="679.3000000000001" y2="22.99" stroke="#262626" stroke-width="1.15"/>
<g fill="#262626" color="#262626" class="ax"><path transform="translate(362.81,28.79) scale(0.00552,-0.00552)" d="M583 0 L583 1125 L222 905 L222 1080 L600 1409 L763 1409 L763 0 Z" stroke="currentColor" stroke-width="14.5"/><text x="368.25" y="28.79" font-size="11.3" xml:space="preserve">0</text><text x="375.13" y="23.19" font-size="8.4" xml:space="preserve">-</text><path transform="translate(377.93,23.19) scale(0.00410,-0.00410)" d="M583 0 L583 1125 L222 905 L222 1080 L600 1409 L763 1409 L763 0 Z" stroke="currentColor" stroke-width="19.5"/></g>
<line x1="386.8" y1="54.18" x2="390.7" y2="54.18" stroke="#262626" stroke-width="1.15"/>
<line x1="683.2" y1="54.18" x2="679.3000000000001" y2="54.18" stroke="#262626" stroke-width="1.15"/>
<g fill="#262626" color="#262626" class="ax"><path transform="translate(362.81,59.98) scale(0.00552,-0.00552)" d="M583 0 L583 1125 L222 905 L222 1080 L600 1409 L763 1409 L763 0 Z" stroke="currentColor" stroke-width="14.5"/><text x="368.25" y="59.98" font-size="11.3" xml:space="preserve">0</text><text x="375.13" y="54.38" font-size="8.4" xml:space="preserve">-3</text></g>
<line x1="386.8" y1="85.37" x2="390.7" y2="85.37" stroke="#262626" stroke-width="1.15"/>
<line x1="683.2" y1="85.37" x2="679.3000000000001" y2="85.37" stroke="#262626" stroke-width="1.15"/>
<g fill="#262626" color="#262626" class="ax"><path transform="translate(362.81,91.17) scale(0.00552,-0.00552)" d="M583 0 L583 1125 L222 905 L222 1080 L600 1409 L763 1409 L763 0 Z" stroke="currentColor" stroke-width="14.5"/><text x="368.25" y="91.17" font-size="11.3" xml:space="preserve">0</text><text x="375.13" y="85.57" font-size="8.4" xml:space="preserve">-5</text></g>
<line x1="386.8" y1="116.55" x2="390.7" y2="116.55" stroke="#262626" stroke-width="1.15"/>
<line x1="683.2" y1="116.55" x2="679.3000000000001" y2="116.55" stroke="#262626" stroke-width="1.15"/>
<g fill="#262626" color="#262626" class="ax"><path transform="translate(362.81,122.35) scale(0.00552,-0.00552)" d="M583 0 L583 1125 L222 905 L222 1080 L600 1409 L763 1409 L763 0 Z" stroke="currentColor" stroke-width="14.5"/><text x="368.25" y="122.35" font-size="11.3" xml:space="preserve">0</text><text x="375.13" y="116.75" font-size="8.4" xml:space="preserve">-7</text></g>
<line x1="386.8" y1="147.74" x2="390.7" y2="147.74" stroke="#262626" stroke-width="1.15"/>
<line x1="683.2" y1="147.74" x2="679.3000000000001" y2="147.74" stroke="#262626" stroke-width="1.15"/>
<g fill="#262626" color="#262626" class="ax"><path transform="translate(362.81,153.54) scale(0.00552,-0.00552)" d="M583 0 L583 1125 L222 905 L222 1080 L600 1409 L763 1409 L763 0 Z" stroke="currentColor" stroke-width="14.5"/><text x="368.25" y="153.54" font-size="11.3" xml:space="preserve">0</text><text x="375.13" y="147.94" font-size="8.4" xml:space="preserve">-9</text></g>
<line x1="386.8" y1="178.93" x2="390.7" y2="178.93" stroke="#262626" stroke-width="1.15"/>
<line x1="683.2" y1="178.93" x2="679.3000000000001" y2="178.93" stroke="#262626" stroke-width="1.15"/>
<g fill="#262626" color="#262626" class="ax"><path transform="translate(358.14,184.73) scale(0.00552,-0.00552)" d="M583 0 L583 1125 L222 905 L222 1080 L600 1409 L763 1409 L763 0 Z" stroke="currentColor" stroke-width="14.5"/><text x="363.57" y="184.73" font-size="11.3" xml:space="preserve">0</text><text x="370.46" y="179.13" font-size="8.4" xml:space="preserve">-</text><path transform="translate(373.26,179.13) scale(0.00410,-0.00410)" d="M583 0 L583 1125 L222 905 L222 1080 L600 1409 L763 1409 L763 0 Z" stroke="currentColor" stroke-width="19.5"/><path transform="translate(377.93,179.13) scale(0.00410,-0.00410)" d="M583 0 L583 1125 L222 905 L222 1080 L600 1409 L763 1409 L763 0 Z" stroke="currentColor" stroke-width="19.5"/></g>
<line x1="386.8" y1="210.11" x2="390.7" y2="210.11" stroke="#262626" stroke-width="1.15"/>
<line x1="683.2" y1="210.11" x2="679.3000000000001" y2="210.11" stroke="#262626" stroke-width="1.15"/>
<g fill="#262626" color="#262626" class="ax"><path transform="translate(358.14,215.91) scale(0.00552,-0.00552)" d="M583 0 L583 1125 L222 905 L222 1080 L600 1409 L763 1409 L763 0 Z" stroke="currentColor" stroke-width="14.5"/><text x="363.57" y="215.91" font-size="11.3" xml:space="preserve">0</text><text x="370.46" y="210.31" font-size="8.4" xml:space="preserve">-</text><path transform="translate(373.26,210.31) scale(0.00410,-0.00410)" d="M583 0 L583 1125 L222 905 L222 1080 L600 1409 L763 1409 L763 0 Z" stroke="currentColor" stroke-width="19.5"/><text x="377.93" y="210.31" font-size="8.4" xml:space="preserve">3</text></g>
<line x1="386.8" y1="241.45" x2="390.7" y2="241.45" stroke="#262626" stroke-width="1.15"/>
<line x1="683.2" y1="241.45" x2="679.3000000000001" y2="241.45" stroke="#262626" stroke-width="1.15"/>
<g fill="#262626" color="#262626" class="ax"><path transform="translate(358.14,247.10) scale(0.00552,-0.00552)" d="M583 0 L583 1125 L222 905 L222 1080 L600 1409 L763 1409 L763 0 Z" stroke="currentColor" stroke-width="14.5"/><text x="363.57" y="247.10" font-size="11.3" xml:space="preserve">0</text><text x="370.46" y="241.50" font-size="8.4" xml:space="preserve">-</text><path transform="translate(373.26,241.50) scale(0.00410,-0.00410)" d="M583 0 L583 1125 L222 905 L222 1080 L600 1409 L763 1409 L763 0 Z" stroke="currentColor" stroke-width="19.5"/><text x="377.93" y="241.50" font-size="8.4" xml:space="preserve">5</text></g>
<line x1="406.20" y1="241.3" x2="406.20" y2="237.4" stroke="#262626" stroke-width="1.15"/>
<line x1="406.20" y1="7.4" x2="406.20" y2="11.3" stroke="#262626" stroke-width="1.15"/>
<text class="axt" x="406.20" y="257" text-anchor="middle" font-size="11.3" fill="#262626" color="#262626">V</text>
<line x1="450.08" y1="241.3" x2="450.08" y2="237.4" stroke="#262626" stroke-width="1.15"/>
<line x1="450.08" y1="7.4" x2="450.08" y2="11.3" stroke="#262626" stroke-width="1.15"/>
<text class="axt" x="450.08" y="257" text-anchor="middle" font-size="11.3" fill="#262626" color="#262626">Zn</text>
<line x1="493.96" y1="241.3" x2="493.96" y2="237.4" stroke="#262626" stroke-width="1.15"/>
<line x1="493.96" y1="7.4" x2="493.96" y2="11.3" stroke="#262626" stroke-width="1.15"/>
<text class="axt" x="493.96" y="257" text-anchor="middle" font-size="11.3" fill="#262626" color="#262626">Co</text>
<line x1="537.84" y1="241.3" x2="537.84" y2="237.4" stroke="#262626" stroke-width="1.15"/>
<line x1="537.84" y1="7.4" x2="537.84" y2="11.3" stroke="#262626" stroke-width="1.15"/>
<text class="axt" x="537.84" y="257" text-anchor="middle" font-size="11.3" fill="#262626" color="#262626">Ni</text>
<line x1="581.72" y1="241.3" x2="581.72" y2="237.4" stroke="#262626" stroke-width="1.15"/>
<line x1="581.72" y1="7.4" x2="581.72" y2="11.3" stroke="#262626" stroke-width="1.15"/>
<text class="axt" x="581.72" y="257" text-anchor="middle" font-size="11.3" fill="#262626" color="#262626">Mn</text>
<line x1="625.60" y1="241.3" x2="625.60" y2="237.4" stroke="#262626" stroke-width="1.15"/>
<line x1="625.60" y1="7.4" x2="625.60" y2="11.3" stroke="#262626" stroke-width="1.15"/>
<text class="axt" x="625.60" y="257" text-anchor="middle" font-size="11.3" fill="#262626" color="#262626">Fe</text>
<line x1="669.48" y1="241.3" x2="669.48" y2="237.4" stroke="#262626" stroke-width="1.15"/>
<line x1="669.48" y1="7.4" x2="669.48" y2="11.3" stroke="#262626" stroke-width="1.15"/>
<text class="axt" x="669.48" y="257" text-anchor="middle" font-size="11.3" fill="#262626" color="#262626">Mg</text>
<text x="397.2" y="27.7" font-size="13.9" font-weight="bold" fill="#000" color="#000">B</text>
<text x="443.1" y="26.8" font-size="11.9" fill="#000" color="#000">Palaeoproterozoic vs. Modern seawater</text>
<text x="535.00" y="272.7" text-anchor="middle" font-size="11.8" class="axt" fill="#262626" color="#262626">Element</text>
</g>
</svg></div>
</body></html>
